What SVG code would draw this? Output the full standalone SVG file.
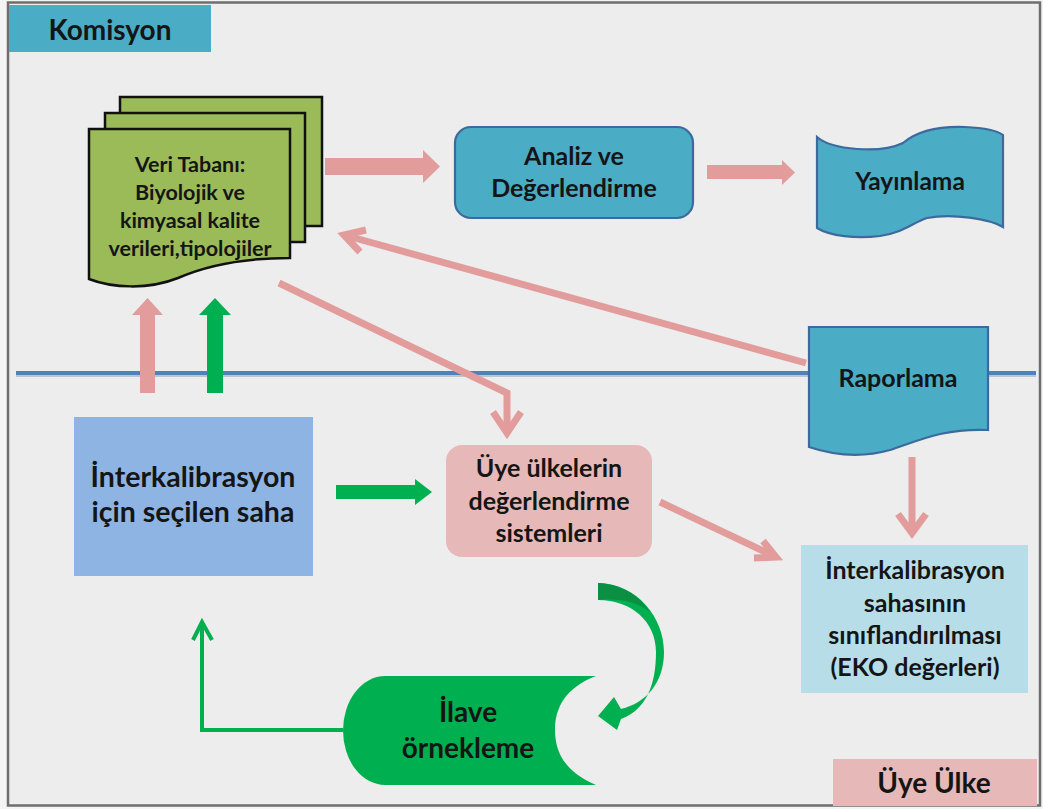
<svg xmlns="http://www.w3.org/2000/svg" width="1043" height="809" viewBox="0 0 1043 809">
  <defs>
    <style>
      .t { font-family: Lato, "Open Sans", "Liberation Sans", sans-serif; font-weight: bold; fill: #151515; text-anchor: middle; }
      .blue { fill: #4bacc6; stroke: #3c6a9c; stroke-width: 2.2; }
      .pinkline { fill: none; stroke: #e39c9c; stroke-width: 7; stroke-linecap: butt; stroke-linejoin: miter; }
      .pinkblock { fill: #e39c9c; }
      .greenblock { fill: #00b050; }
      .greenline { fill: none; stroke: #00b050; stroke-width: 4; }
      .sheet { fill: #9bbb59; stroke: #111; stroke-width: 2.5; stroke-linejoin: miter; }
    </style>
  </defs>

  <!-- page frame -->
  <rect x="0" y="0" width="1043" height="809" fill="#f4f4f4"/>
  <rect x="8" y="2.5" width="1032" height="803" fill="#ededed" stroke="#6e6e6e" stroke-width="2.5"/>

  <!-- swimlane divider -->
  <line x1="16" y1="375" x2="1036" y2="375" stroke="#bfc4cc" stroke-width="4"/>
  <line x1="16" y1="373" x2="1036" y2="373" stroke="#4f81bd" stroke-width="4"/>

  <!-- lane labels -->
  <g id="lane-komisyon">
    <rect x="9" y="5" width="202" height="47" fill="#4bacc6"/>
    <text class="t" x="110" y="40" font-size="28">Komisyon</text>
  </g>
  <g id="lane-uye-ulke">
    <rect x="833" y="759" width="204" height="47" fill="#e6b9b8"/>
    <text class="t" x="934" y="793" font-size="28">Üye Ülke</text>
  </g>

  <!-- connectors -->
  <g id="connectors">
    <!-- database to analysis -->
    <polygon class="pinkblock" points="325,158 423,158 423,150 440,166.5 423,183 423,175 325,175"/>
    <!-- analysis to publishing -->
    <polygon class="pinkblock" points="707,165 782,165 782,160 795,172.5 782,185 782,179 707,179"/>
    <!-- site up to database -->
    <polygon class="pinkblock" points="140,393 140,315 132,315 147.5,298 163,315 155,315 155,393"/>
    <polygon class="greenblock" points="207,393 207,315 199,315 215,298 231,315 223,315 223,393"/>
    <!-- site to member systems -->
    <polygon class="greenblock" points="336,485 415,485 415,479 432,492 415,505 415,499 336,499"/>
    <!-- reporting back to database -->
    <line class="pinkline" x1="806" y1="363" x2="344" y2="235"/>
    <polyline class="pinkline" points="366,230 344,235 360,252"/>
    <!-- database to member systems -->
    <polyline class="pinkline" points="279,283 507,393 507,433"/>
    <polyline class="pinkline" points="493,412 507,433 521,412"/>
    <!-- member systems to classification -->
    <line class="pinkline" x1="660" y1="502" x2="774" y2="556"/>
    <polyline class="pinkline" points="763,541 776,557 754,558"/>
    <!-- reporting down to classification -->
    <line class="pinkline" x1="912" y1="457" x2="912" y2="532"/>
    <polyline class="pinkline" points="898,514 912,533 926,514"/>
    <!-- extra sampling back to site -->
    <polyline class="greenline" points="343,730 202,730 202,622"/>
    <polyline class="greenline" points="193,640 202,622 212,640"/>
    <!-- curved arrow from member systems down to extra sampling -->
    <path class="greenblock" d="M598,583 C638,584 664,618 664,652 C664,683 646,703 621,709 L614,697 L598,716 L617,730 L621,719 C648,709 656,682 656,652 C656,622 632,600 598,600 Z"/>
    <path d="M598,583 C622,584 640,596 650,612 C638,602 620,598 598,600 Z" fill="#0b8f43"/>
  </g>

  <!-- database document stack -->
  <g id="node-veri-tabani">
    <rect class="sheet" x="120" y="97" width="202" height="129"/>
    <rect class="sheet" x="105" y="113" width="200" height="129"/>
    <path class="sheet" d="M89,129 L290,129 L290,258 C250,258 210,264 178,278 C148,290 112,288 89,279 Z"/>
    <text class="t" x="190" y="172" font-size="21.5">Veri Tabanı:</text>
    <text class="t" x="190" y="200" font-size="21.5">Biyolojik ve</text>
    <text class="t" x="190" y="228" font-size="21.5">kimyasal kalite</text>
    <text class="t" x="190" y="256" font-size="21.5">verileri,tipolojiler</text>
  </g>

  <g id="node-analiz">
    <rect class="blue" x="455" y="127" width="238" height="91" rx="16"/>
    <text class="t" x="574" y="165" font-size="25">Analiz ve</text>
    <text class="t" x="574" y="197" font-size="25">Değerlendirme</text>
  </g>

  <g id="node-yayinlama">
    <path class="blue" d="M817,137 C832,150 880,154 903,143 C916,132 937,126 965,127 C985,128 998,131 1003,135 L1003,227 C990,219 952,213 927,218 C912,223 905,232 880,236 C856,239 830,236 817,228 Z"/>
    <text class="t" x="910" y="190" font-size="24.5">Yayınlama</text>
  </g>

  <g id="node-raporlama">
    <path class="blue" d="M809,327 L988,327 L988,430 C945,428 920,440 890,450 C862,458 836,456 809,447 Z"/>
    <text class="t" x="898" y="387" font-size="25">Raporlama</text>
  </g>

  <g id="node-saha">
    <rect x="74" y="417" width="239" height="159" fill="#8eb4e3"/>
    <text class="t" x="193" y="487" font-size="28.5">İnterkalibrasyon</text>
    <text class="t" x="193" y="522" font-size="28.5">için seçilen saha</text>
  </g>

  <g id="node-uye-sistemleri">
    <rect x="446" y="445" width="206" height="112" rx="16" fill="#e6b9b8"/>
    <text class="t" x="549" y="477" font-size="25">Üye ülkelerin</text>
    <text class="t" x="549" y="510" font-size="25">değerlendirme</text>
    <text class="t" x="549" y="542" font-size="25">sistemleri</text>
  </g>

  <g id="node-siniflandirma">
    <rect x="801" y="545" width="227" height="148" fill="#b7dee8"/>
    <text class="t" x="915" y="579" font-size="25">İnterkalibrasyon</text>
    <text class="t" x="915" y="612" font-size="25">sahasının</text>
    <text class="t" x="915" y="644" font-size="25">sınıflandırılması</text>
    <text class="t" x="915" y="676" font-size="25">(EKO değerleri)</text>
  </g>

  <g id="node-ilave">
    <path d="M596,676 L385,676 A42,54.5 0 0 0 385,785 L596,785 C565,772 555,752 555,730 C555,708 565,688 596,676 Z" fill="#00b050"/>
    <text class="t" x="468" y="722" font-size="28">İlave</text>
    <text class="t" x="468" y="758" font-size="28">örnekleme</text>
  </g>
</svg>
